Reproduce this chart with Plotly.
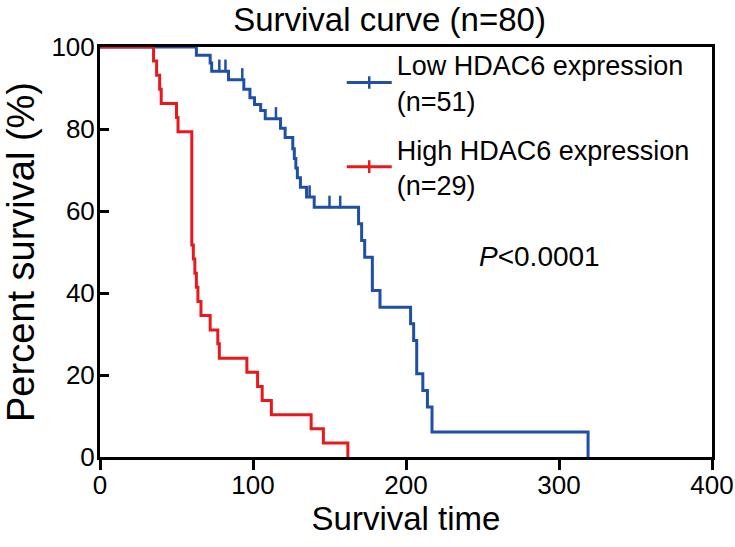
import plotly.graph_objects as go

# Kaplan-Meier steps (time, percent surviving after the step)
low_time = [0, 63, 72, 73, 84, 94, 98, 101, 105, 108, 118, 121, 126, 127, 128, 129, 131, 135,
            140, 169, 171, 173, 178, 183, 203, 205, 207, 211, 214, 217, 319]
low_surv = [100, 98.0, 96.1, 94.1, 92.0, 89.7, 87.6, 86.0, 84.5, 82.5, 80.2, 77.9, 75.2, 72.8,
            70.5, 68.1, 65.8, 63.4, 60.9, 56.9, 52.8, 48.7, 40.6, 36.5, 32.5, 28.4, 20.3, 16.2,
            12.2, 6.1, 0]
low_cens_time = [62, 78, 82, 93, 115, 137, 150, 157]
low_cens_surv = [100, 94.1, 94.1, 92.0, 82.5, 63.4, 60.9, 60.9]

high_time = [0, 35, 37, 39, 40, 50, 51, 60, 61, 62, 63, 64, 66, 72, 77, 78, 96, 103, 106,
             112, 138, 146, 162]
high_surv = [100, 96.6, 93.1, 89.7, 86.2, 82.8, 79.3, 51.7, 48.3, 44.8, 41.4, 37.9, 34.5,
             31.0, 27.6, 24.1, 20.7, 17.2, 13.8, 10.3, 6.9, 3.4, 0]

BLUE = "#1f4fa6"
RED = "#e8191d"
FONT = "Liberation Sans, Arial, sans-serif"

fig = go.Figure()

# curves
fig.add_trace(go.Scatter(x=low_time, y=low_surv, mode="lines", line_shape="hv",
                         line=dict(color=BLUE, width=3), showlegend=False, cliponaxis=False))
fig.add_trace(go.Scatter(x=high_time, y=high_surv, mode="lines", line_shape="hv",
                         line=dict(color=RED, width=3), showlegend=False, cliponaxis=False))
# censor ticks, drawn pointing up from the curve
fig.add_trace(go.Scatter(x=low_cens_time, y=[v + 1.3 for v in low_cens_surv], mode="markers",
                         marker=dict(symbol="line-ns", size=9, line=dict(color=BLUE, width=2.5)),
                         showlegend=False, cliponaxis=False))

# legend entries
fig.add_trace(go.Scatter(x=[None], y=[None], mode="lines+markers", name="Low HDAC6 expression<br>(n=51)",
                         legendgroup="low", line=dict(color=BLUE, width=3),
                         marker=dict(symbol="line-ns", size=9, line=dict(color=BLUE, width=2.5))))
fig.add_trace(go.Scatter(x=[None], y=[None], mode="lines+markers", name="High HDAC6 expression<br>(n=29)",
                         legendgroup="high", line=dict(color=RED, width=3),
                         marker=dict(symbol="line-ns", size=9, line=dict(color=RED, width=2.5))))

fig.add_annotation(x=287, y=49, xref="x", yref="y", text="<i>P</i><0.0001", showarrow=False,
                   font=dict(size=28, color="black", family=FONT))

fig.update_layout(
    width=735, height=547,
    margin=dict(l=100, r=23, t=47, b=90),
    paper_bgcolor="white", plot_bgcolor="white",
    font=dict(family=FONT, color="black"),
    title=dict(text="Survival curve (n=80)", x=0.53, xanchor="center", y=0.965, yanchor="middle",
               font=dict(size=33, color="black", family=FONT)),
    legend=dict(x=0.395, y=1.015, xanchor="left", yanchor="top", bgcolor="rgba(0,0,0,0)",
                font=dict(size=27, color="black", family=FONT), tracegroupgap=11, itemwidth=45),
)
fig.update_xaxes(range=[0, 400], tickvals=[0, 100, 200, 300, 400], showgrid=False, zeroline=False,
                 showline=True, linecolor="black", linewidth=3, mirror=True, automargin=False,
                 ticks="outside", ticklen=10, tickwidth=3, tickcolor="black",
                 tickfont=dict(size=26, family=FONT), ticklabelstandoff=-7,
                 title=dict(text="Survival time", font=dict(size=33, family=FONT), standoff=2))
fig.update_yaxes(range=[0, 100], tickvals=[0, 20, 40, 60, 80, 100], showgrid=False, zeroline=False,
                 showline=True, linecolor="black", linewidth=3, mirror=True, automargin=False,
                 ticks="inside", ticklen=9, tickwidth=3, tickcolor="black",
                 tickfont=dict(size=26, family=FONT), ticklabelstandoff=-3,
                 title=dict(text="Percent survival (%)", font=dict(size=38, family=FONT), standoff=10))

# the page body has a default 8px margin; drop it so the figure fills the window
fig.write_html("out.html", config={"displayModeBar": False},
               post_script="document.body.style.margin='0px';")
